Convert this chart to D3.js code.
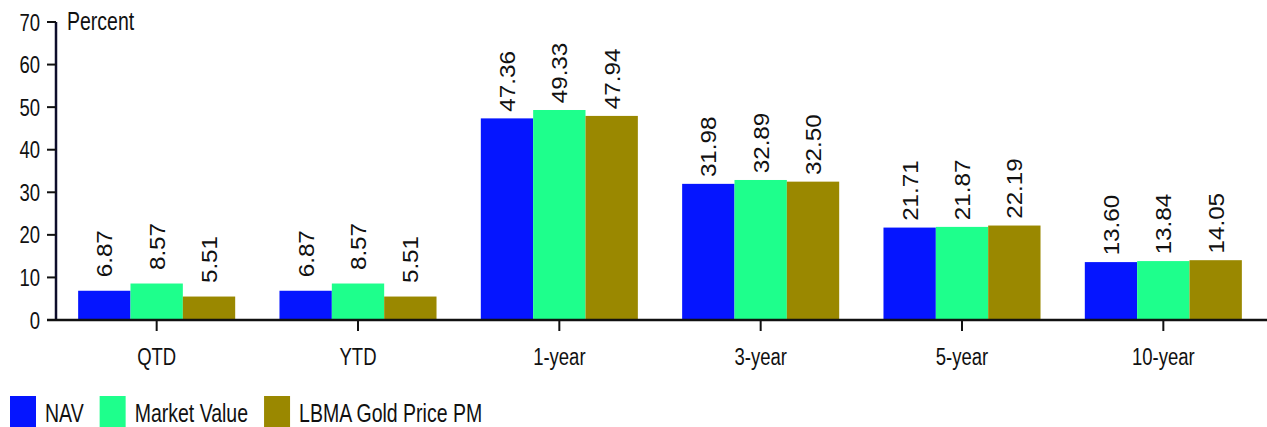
<!DOCTYPE html>
<html>
<head>
<meta charset="utf-8">
<script src="https://cdn.jsdelivr.net/npm/d3@7"></script>
<style>
  body { margin: 0; background: #fff; }
  svg { display: block; font-family: "Liberation Sans", Arial, sans-serif; }
</style>
</head>
<body>
<div id="chart"></div>
<script>
// chart values
var categories = ["QTD", "YTD", "1-year", "3-year", "5-year", "10-year"];
var seriesNames = ["NAV", "Market Value", "LBMA Gold Price PM"];
var nav = [6.87, 6.87, 47.36, 31.98, 21.71, 13.60];
var marketValue = [8.57, 8.57, 49.33, 32.89, 21.87, 13.84];
var goldPrice = [5.51, 5.51, 47.94, 32.50, 22.19, 14.05];
var yTicks = [0, 10, 20, 30, 40, 50, 60, 70];

var colors = ["#0515ff", "#1eff8c", "#9a8800"];
var series = [nav, marketValue, goldPrice];
var stretch = 1.3; // text in the picture is drawn taller than wide

var W = 1267, H = 427;
var svg = d3.select('#chart').append('svg')
  .attr('width', W).attr('height', H);

var x = d3.scaleBand().domain(categories).range([56, 1264])
  .paddingInner(0.22).paddingOuter(0.11);
var xs = d3.scaleBand().domain(d3.range(series.length)).range([0, x.bandwidth()]);
var y = d3.scaleLinear().domain([0, 70]).range([320, 22]);

// bars
var groups = svg.selectAll('g.grp').data(categories).join('g')
  .attr('class', 'grp')
  .attr('transform', d => `translate(${x(d)},0)`);

groups.each(function (cat, ci) {
  var g = d3.select(this);
  var vals = series.map((s, si) => ({ si: si, v: s[ci] }));
  g.selectAll('rect').data(vals).join('rect')
    .attr('x', d => xs(d.si))
    .attr('width', xs.bandwidth())
    .attr('y', d => y(d.v))
    .attr('height', d => y(0) - y(d.v))
    .style('fill', d => colors[d.si]);
  // value labels, centred 37px above the bar top
  g.selectAll('text').data(vals).join('text')
    .attr('transform', d => `translate(${xs(d.si) + xs.bandwidth() / 2 + 8},${y(d.v) - 37}) rotate(-90) scale(1.1,1)`)
    .attr('text-anchor', 'middle')
    .style('font-size', '22px')
    .style('fill', '#111')
    .text(d => d.v.toFixed(2));
});

// y axis
svg.append('line')
  .attr('x1', 56).attr('x2', 56).attr('y1', y(70)).attr('y2', y(0))
  .style('stroke', '#0d0d2b').style('stroke-width', 2.5);
svg.selectAll('line.ytick').data(yTicks).join('line')
  .attr('class', 'ytick')
  .attr('x1', 47).attr('x2', 56)
  .attr('y1', d => y(d)).attr('y2', d => y(d))
  .style('stroke', '#111').style('stroke-width', 2);
svg.selectAll('text.ylab').data(yTicks).join('text')
  .attr('class', 'ylab')
  .attr('transform', d => `translate(40,${y(d) + 8.5}) scale(1,${stretch})`)
  .attr('text-anchor', 'end')
  .style('font-size', '18.5px')
  .style('fill', '#111')
  .text(d => d);
svg.append('text')
  .attr('transform', `translate(67,${30}) scale(1,${stretch})`)
  .style('font-size', '19.5px')
  .style('fill', '#111')
  .text('Percent');

// x axis
svg.append('line')
  .attr('x1', 47).attr('x2', W).attr('y1', y(0)).attr('y2', y(0))
  .style('stroke', '#111').style('stroke-width', 2.5);
svg.selectAll('line.xtick').data(categories).join('line')
  .attr('class', 'xtick')
  .attr('x1', d => x(d) + x.bandwidth() / 2).attr('x2', d => x(d) + x.bandwidth() / 2)
  .attr('y1', y(0)).attr('y2', y(0) + 11)
  .style('stroke', '#111').style('stroke-width', 2);
svg.selectAll('text.xlab').data(categories).join('text')
  .attr('class', 'xlab')
  .attr('transform', d => `translate(${x(d) + x.bandwidth() / 2},365) scale(1,${stretch})`)
  .attr('text-anchor', 'middle')
  .style('font-size', '18.5px')
  .style('fill', '#111')
  .text(d => d);

// legend
var lx = 10;
seriesNames.forEach(function (name, i) {
  svg.append('rect')
    .attr('x', lx).attr('y', 396).attr('width', 26).attr('height', 34)
    .style('fill', colors[i]);
  var t = svg.append('text')
    .attr('transform', `translate(${lx + 35},422) scale(1,${stretch})`)
    .style('font-size', '19.5px')
    .style('fill', '#111')
    .text(name);
  lx += 35 + t.node().getComputedTextLength() + 16;
});
</script>
</body>
</html>
